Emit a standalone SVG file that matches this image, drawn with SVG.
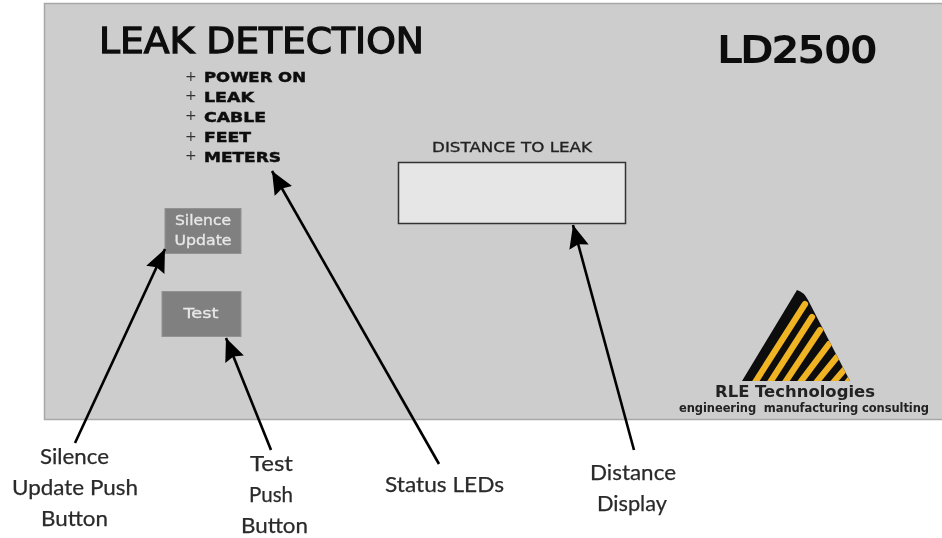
<svg xmlns="http://www.w3.org/2000/svg" width="942" height="538" viewBox="0 0 942 538">
<defs>
<marker id="ah" markerUnits="userSpaceOnUse" markerWidth="26" markerHeight="24" refX="23" refY="12" orient="auto"><path d="M0 2 L23 12 L0 22 L3 12 Z" fill="#000"/></marker>
<clipPath id="tri"><path d="M742 381 L797 290 Q804 292 808 300 L850 381 Z"/></clipPath>
<filter id="soft" x="-5%" y="-20%" width="110%" height="140%"><feGaussianBlur stdDeviation="0.45"/></filter>
</defs>
<style>
.lbl{font-family:Lato,"Open Sans",sans-serif;font-size:22px;fill:#2a2a2a;text-anchor:middle;stroke:#2a2a2a;stroke-width:.25px}
.led{font-family:"DejaVu Sans",sans-serif;font-weight:bold;font-size:14px;fill:#111;stroke:#111;stroke-width:.5px}
.plus{font-family:"DejaVu Sans",sans-serif;font-size:14px;fill:#333}
.btn{fill:#808080;stroke:#929292;stroke-width:1}
.btxt{font-family:"DejaVu Sans",sans-serif;font-size:14px;fill:#e8e8e8;stroke:#e8e8e8;stroke-width:.3px;text-anchor:middle}
.cn{stroke:#000;stroke-width:2.6;fill:none;marker-end:url(#ah)}
</style>
<rect width="942" height="538" fill="#fff"/>
<g id="panel">
<rect x="44.500" y="3.500" width="900" height="416" fill="#cdcdcd" stroke="#a8a8a8" stroke-width="1.500"/>
<g filter="url(#soft)">
<text x="99" y="53" font-family="'DejaVu Sans',sans-serif" font-size="36" fill="#111" textLength="325" lengthAdjust="spacingAndGlyphs" stroke="#111" stroke-width="1.300">LEAK DETECTION</text>
<text x="718" y="62" font-family="'DejaVu Sans',sans-serif" font-size="35" fill="#111" stroke="#111" stroke-width="2" textLength="159" lengthAdjust="spacingAndGlyphs">LD2500</text>
</g>
</g>
<g id="status-leds" filter="url(#soft)">
<text class="plus" x="185" y="81">+</text><text class="led" x="204" y="82" textLength="102" lengthAdjust="spacingAndGlyphs">POWER ON</text>
<text class="plus" x="185" y="100">+</text><text class="led" x="204" y="102" textLength="50" lengthAdjust="spacingAndGlyphs">LEAK</text>
<text class="plus" x="185" y="120">+</text><text class="led" x="204" y="122" textLength="62" lengthAdjust="spacingAndGlyphs">CABLE</text>
<text class="plus" x="185" y="141">+</text><text class="led" x="204" y="142" textLength="47" lengthAdjust="spacingAndGlyphs">FEET</text>
<text class="plus" x="185" y="160">+</text><text class="led" x="204" y="162" textLength="77" lengthAdjust="spacingAndGlyphs">METERS</text>
</g>
<g id="distance-display">
<text x="512" y="152" font-family="'DejaVu Sans',sans-serif" font-size="14" fill="#222" stroke="#222" stroke-width=".3" text-anchor="middle" textLength="160" lengthAdjust="spacingAndGlyphs" filter="url(#soft)">DISTANCE TO LEAK</text>
<rect x="398.500" y="162.500" width="227" height="61" fill="#e6e6e6" stroke="#333" stroke-width="1.500"/>
</g>
<g id="silence-button">
<rect class="btn" x="165" y="208.500" width="76" height="45"/>
<g filter="url(#soft)">
<text class="btxt" x="203" y="225" textLength="56" lengthAdjust="spacingAndGlyphs">Silence</text>
<text class="btxt" x="203" y="245" textLength="57" lengthAdjust="spacingAndGlyphs">Update</text>
</g>
</g>
<g id="test-button">
<rect class="btn" x="162" y="291.500" width="79" height="45"/>
<text class="btxt" x="201" y="318" textLength="35" lengthAdjust="spacingAndGlyphs" filter="url(#soft)">Test</text>
</g>
<g id="logo">
<g filter="url(#soft)">
<path d="M742 381 L797 290 Q804 292 808 300 L850 381 Z" fill="#111"/>
<g clip-path="url(#tri)" stroke="#f0b323" stroke-width="6.200" fill="none" stroke-linecap="round">
<path d="M754 384 L805 304"/><path d="M769 384 L812 317"/><path d="M784 384 L820 330"/><path d="M799 384 L829 344"/><path d="M815 384 L837 357"/><path d="M832 384 L844 370"/><path d="M846 384 L851 378"/>
</g>
</g>
<g filter="url(#soft)">
<text x="795" y="397" font-family="'DejaVu Sans',sans-serif" font-size="16.500" font-weight="bold" fill="#222" text-anchor="middle" textLength="160" lengthAdjust="spacingAndGlyphs">RLE Technologies</text>
<text x="804" y="412" font-family="'DejaVu Sans',sans-serif" font-size="11.500" font-weight="bold" fill="#222" text-anchor="middle" textLength="250" lengthAdjust="spacing" style="white-space:pre">engineering  manufacturing consulting</text>
</g>
</g>
<g id="connectors">
<line class="cn" x1="75" y1="443" x2="165" y2="249"/>
<line class="cn" x1="271" y1="450" x2="226" y2="338"/>
<line class="cn" x1="439" y1="464" x2="272" y2="171"/>
<line class="cn" x1="634" y1="450" x2="573" y2="225"/>
</g>
<g id="labels" filter="url(#soft)">
<text class="lbl" x="74.500" y="464" textLength="69" lengthAdjust="spacingAndGlyphs">Silence</text>
<text class="lbl" x="75" y="495" textLength="126" lengthAdjust="spacingAndGlyphs">Update Push</text>
<text class="lbl" x="74.500" y="526" textLength="67" lengthAdjust="spacingAndGlyphs">Button</text>
<text class="lbl" x="271.500" y="471" textLength="43" lengthAdjust="spacingAndGlyphs">Test</text>
<text class="lbl" x="271" y="502" textLength="44" lengthAdjust="spacingAndGlyphs">Push</text>
<text class="lbl" x="274.500" y="533" textLength="67" lengthAdjust="spacingAndGlyphs">Button</text>
<text class="lbl" x="444.500" y="492" textLength="119" lengthAdjust="spacingAndGlyphs">Status LEDs</text>
<text class="lbl" x="633" y="480" textLength="86" lengthAdjust="spacingAndGlyphs">Distance</text>
<text class="lbl" x="632" y="511" textLength="70" lengthAdjust="spacingAndGlyphs">Display</text>
</g>
</svg>
